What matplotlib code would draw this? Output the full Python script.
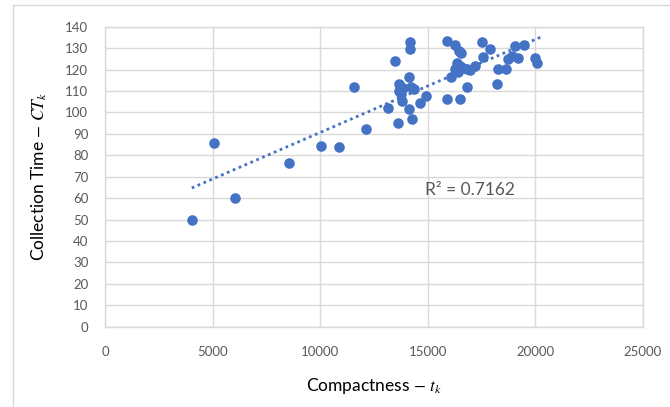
import numpy as np
import matplotlib
matplotlib.use("Agg")
import matplotlib.pyplot as plt
from matplotlib.lines import Line2D

compactness = [4033, 5084, 6060, 8544, 10033, 10884, 12125,
               14186, 14186, 13502, 11595, 13688, 14153, 13660, 13874, 14219,
               14372, 13781, 13800, 14140, 13149, 14651, 14916, 14279, 13614,
               15893, 16279, 16479, 16558, 17521, 17907, 16358, 16512, 16665,
               16279, 16433, 16823, 16977, 17209, 17595, 16079, 16823, 15893,
               16512, 18219, 18293, 18651, 18758, 19070, 19502, 18916, 19223,
               20000, 20107]
collection_time = [49.8, 85.6, 60.1, 76.5, 84.3, 83.7, 92.3,
                   132.7, 129.4, 124.1, 111.9, 113.4, 116.5, 110.0, 111.2, 112.0,
                   110.8, 108.4, 105.3, 101.4, 102.2, 104.5, 107.8, 96.8, 94.9,
                   133.5, 131.5, 128.7, 127.6, 132.7, 129.6, 122.9, 121.7, 120.9,
                   120.1, 119.0, 120.1, 119.8, 121.8, 125.7, 116.7, 112.0, 106.1,
                   106.1, 113.3, 120.1, 120.1, 124.8, 131.0, 131.5, 126.3, 125.2,
                   125.2, 122.9]
x_ticks = [0, 5000, 10000, 15000, 20000, 25000]
y_ticks = list(range(0, 141, 10))
r2_label = "R² = 0.7162"

plt.rcParams['font.family'] = ['Lato', 'DejaVu Sans']
plt.rcParams['mathtext.fontset'] = 'stix'

W, H = 670, 407
fig = plt.figure(figsize=(W / 100, H / 100), dpi=100)
ax = fig.add_axes([105 / W, 1 - 326.7 / H, (642.7 - 105) / W, (326.7 - 26.7) / H])

blue = '#4472C4'
grid_c = '#D9D9D9'
text_c = '#595959'

x = np.array(compactness, dtype=float)
y = np.array(collection_time, dtype=float)
ax.scatter(x, y, s=58, color=blue, zorder=3, linewidths=0)

coef = np.polyfit(x, y, 1)
xs = np.linspace(x.min(), x.max() + 150, 100)
ax.plot(xs, np.polyval(coef, xs), linestyle=(0, (1, 1.3)), color=blue, lw=2.0, zorder=2)

ax.set_xlim(x_ticks[0], x_ticks[-1])
ax.set_ylim(y_ticks[0], y_ticks[-1])
ax.set_xticks(x_ticks)
ax.set_yticks(y_ticks)
ax.grid(True, color=grid_c, lw=1.0)
ax.set_axisbelow(True)
for s in ax.spines.values():
    s.set_color(grid_c)
    s.set_linewidth(1.0)
ax.tick_params(length=0, labelsize=9.5, labelcolor=text_c)
ax.tick_params(axis='y', pad=12)
ax.tick_params(axis='x', pad=14)

ax.text(14884, 63.8, r2_label, fontsize=12.5, color=text_c, va='center', ha='left')

ax.set_xlabel(r"Compactness $-$ $t_k$", fontsize=12.5, color='black', labelpad=13)
ax.set_ylabel(r"Collection Time $-$ $CT_k$", fontsize=12.5, color='black', labelpad=12)

fig.add_artist(Line2D([13 / W, 1], [1 - 5 / H, 1 - 5 / H], color=grid_c, lw=1.0, transform=fig.transFigure))
fig.add_artist(Line2D([13 / W, 13 / W], [0, 1 - 5 / H], color=grid_c, lw=1.0, transform=fig.transFigure))

fig.savefig("out.png", dpi=100)
